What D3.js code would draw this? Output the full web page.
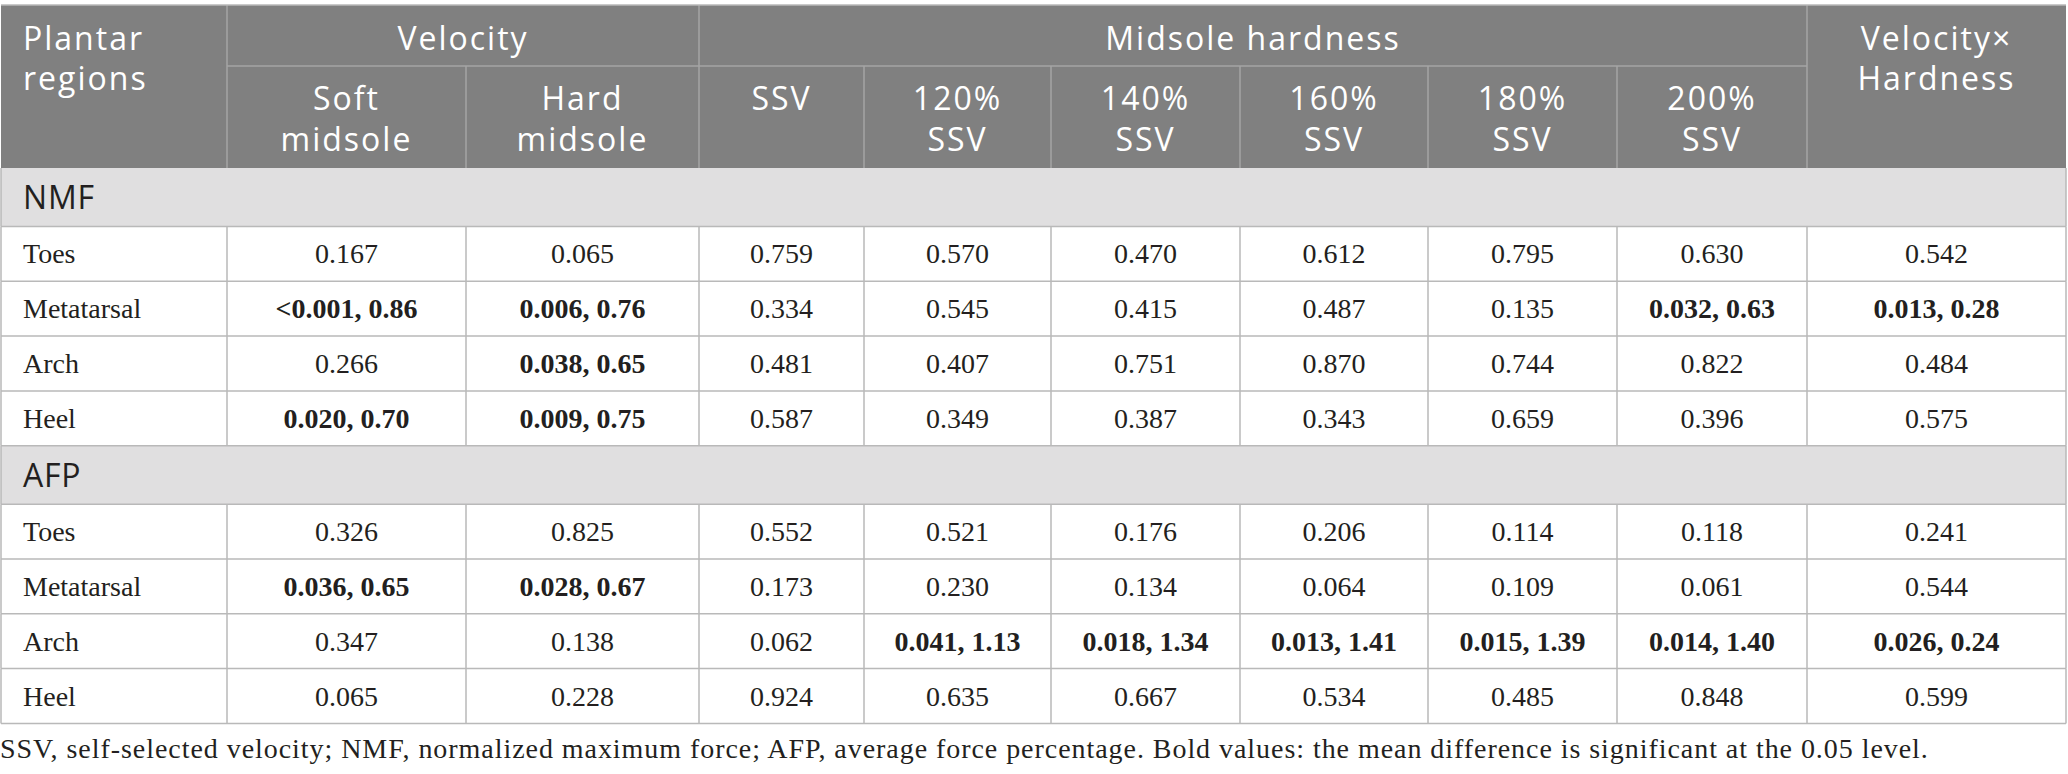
<!DOCTYPE html>
<html lang="en">
<head>
<meta charset="utf-8">
<title>Plantar regions – p values</title>
<script src="https://cdn.jsdelivr.net/npm/d3@7"></script>
<style>
  html, body { margin: 0; padding: 0; background: #fff; }
  svg { display: block; }
  .hd { font-family: "Open Sans", "Noto Sans", sans-serif; font-size: 32px; fill: #fff; letter-spacing: 2px; }
  .grp { font-family: "Open Sans", "Noto Sans", sans-serif; font-size: 32px; fill: #231f20; letter-spacing: 0.8px; }
  .cell { font-family: "Liberation Serif", "Times New Roman", serif; font-size: 28px; fill: #231f20; }
  .note { font-family: "Liberation Serif", "Times New Roman", serif; font-size: 28px; fill: #231f20; letter-spacing: 0.95px; }
</style>
</head>
<body>
<div id="table"></div>
<script>
// ---- data ----
const regions = ["Toes", "Metatarsal", "Arch", "Heel"];
const groups = ["NMF", "AFP"];

const velocityHeader = ["Soft\nmidsole", "Hard\nmidsole"];
const hardnessHeader = ["SSV", "120%\nSSV", "140%\nSSV", "160%\nSSV", "180%\nSSV", "200%\nSSV"];

// one row per region, columns: soft, hard, SSV, 120..200%, velocity x hardness
// values with "p, effect" pairs are the bold (significant) ones
const nmfValues = [
  ["0.167", "0.065", "0.759", "0.570", "0.470", "0.612", "0.795", "0.630", "0.542"],
  ["<0.001, 0.86", "0.006, 0.76", "0.334", "0.545", "0.415", "0.487", "0.135", "0.032, 0.63", "0.013, 0.28"],
  ["0.266", "0.038, 0.65", "0.481", "0.407", "0.751", "0.870", "0.744", "0.822", "0.484"],
  ["0.020, 0.70", "0.009, 0.75", "0.587", "0.349", "0.387", "0.343", "0.659", "0.396", "0.575"]
];
const afpValues = [
  ["0.326", "0.825", "0.552", "0.521", "0.176", "0.206", "0.114", "0.118", "0.241"],
  ["0.036, 0.65", "0.028, 0.67", "0.173", "0.230", "0.134", "0.064", "0.109", "0.061", "0.544"],
  ["0.347", "0.138", "0.062", "0.041, 1.13", "0.018, 1.34", "0.013, 1.41", "0.015, 1.39", "0.014, 1.40", "0.026, 0.24"],
  ["0.065", "0.228", "0.924", "0.635", "0.667", "0.534", "0.485", "0.848", "0.599"]
];
const groupValues = [nmfValues, afpValues];

const footnote = "SSV, self-selected velocity; NMF, normalized maximum force; AFP, average force percentage. Bold values: the mean difference is significant at the 0.05 level.";

// ---- layout ----
const width = 2068, height = 774;
const colEdges = [1, 227, 466, 699, 864, 1051, 1240, 1428, 1617, 1807, 2066];
const tableTop = 5, head1 = 66, headBottom = 168;
const groupH = 58.5, rowH = 54.8;
const padLeft = 22;
const headBg = "#808080", headLine = "#a4a4a4", groupBg = "#e0dfe0", gridLine = "#b9b9b9";

const svg = d3.select("#table").append("svg")
  .attr("width", width)
  .attr("height", height);

// build row list (groups + data rows) with y positions
const rows = [];
let yPos = headBottom;
groups.forEach(function (g, gi) {
  rows.push({ type: "group", label: g, y0: yPos, y1: yPos + groupH });
  yPos += groupH;
  regions.forEach(function (r, ri) {
    rows.push({ type: "data", label: r, values: groupValues[gi][ri], y0: yPos, y1: yPos + rowH });
    yPos += rowH;
  });
});
const tableBottom = yPos;

// ---- header ----
svg.append("rect")
  .attr("x", colEdges[0]).attr("y", tableTop)
  .attr("width", colEdges[10] - colEdges[0]).attr("height", headBottom - tableTop)
  .attr("fill", headBg);

const hLines = svg.append("g").attr("stroke", headLine).attr("stroke-width", 1.5);
hLines.append("line")
  .attr("x1", colEdges[1]).attr("x2", colEdges[9])
  .attr("y1", head1).attr("y2", head1);
// full-height header separators
[1, 3, 9].forEach(function (i) {
  hLines.append("line")
    .attr("x1", colEdges[i]).attr("x2", colEdges[i])
    .attr("y1", tableTop).attr("y2", headBottom);
});
// second-row separators
[2, 4, 5, 6, 7, 8].forEach(function (i) {
  hLines.append("line")
    .attr("x1", colEdges[i]).attr("x2", colEdges[i])
    .attr("y1", head1).attr("y2", headBottom);
});

function multiline(g, text, x, yFirst, lh, anchor) {
  const t = g.append("text").attr("class", "hd").attr("text-anchor", anchor);
  text.split("\n").forEach(function (line, i) {
    t.append("tspan").attr("x", x).attr("y", yFirst + i * lh).text(line);
  });
  return t;
}

const head = svg.append("g");
multiline(head, "Plantar\nregions", colEdges[0] + padLeft, 50, 40, "start");
multiline(head, "Velocity", (colEdges[1] + colEdges[3]) / 2, 50, 40, "middle");
multiline(head, "Midsole hardness", (colEdges[3] + colEdges[9]) / 2, 50, 40, "middle");
multiline(head, "Velocity\u00d7\nHardness", (colEdges[9] + colEdges[10]) / 2, 50, 40, "middle");
velocityHeader.concat(hardnessHeader).forEach(function (h, i) {
  multiline(head, h, (colEdges[i + 1] + colEdges[i + 2]) / 2, 110, 41, "middle");
});

// ---- body ----
const body = svg.append("g");
const groupRows = rows.filter(function (d) { return d.type === "group"; });
const dataRows = rows.filter(function (d) { return d.type === "data"; });

body.selectAll("rect.groupbg")
  .data(groupRows)
  .enter().append("rect")
  .attr("class", "groupbg")
  .attr("x", colEdges[0]).attr("y", function (d) { return d.y0; })
  .attr("width", colEdges[10] - colEdges[0])
  .attr("height", function (d) { return d.y1 - d.y0; })
  .attr("fill", groupBg);

body.selectAll("text.grp")
  .data(groupRows)
  .enter().append("text")
  .attr("class", "grp")
  .attr("x", colEdges[0] + padLeft)
  .attr("y", function (d) { return (d.y0 + d.y1) / 2 + 12; })
  .text(function (d) { return d.label; });

// grid
const grid = body.append("g").attr("stroke", gridLine).attr("stroke-width", 1.5);
rows.forEach(function (d) {
  grid.append("line")
    .attr("x1", colEdges[0]).attr("x2", colEdges[10])
    .attr("y1", d.y1).attr("y2", d.y1);
});
dataRows.forEach(function (d) {
  colEdges.forEach(function (x) {
    grid.append("line")
      .attr("x1", x).attr("x2", x)
      .attr("y1", d.y0).attr("y2", d.y1);
  });
});
// outer border of the group bands
groupRows.forEach(function (d) {
  [colEdges[0], colEdges[10]].forEach(function (x) {
    grid.append("line").attr("x1", x).attr("x2", x).attr("y1", d.y0).attr("y2", d.y1);
  });
});
grid.append("line")
  .attr("x1", colEdges[0]).attr("x2", colEdges[10])
  .attr("y1", tableTop).attr("y2", tableTop);

const rowG = body.selectAll("g.row")
  .data(dataRows)
  .enter().append("g")
  .attr("class", "row")
  .attr("transform", function (d) { return "translate(0," + ((d.y0 + d.y1) / 2 + 9.5) + ")"; });

rowG.append("text")
  .attr("class", "cell")
  .attr("x", colEdges[0] + padLeft)
  .text(function (d) { return d.label; });

rowG.selectAll("text.val")
  .data(function (d) { return d.values; })
  .enter().append("text")
  .attr("class", "cell val")
  .attr("text-anchor", "middle")
  .attr("x", function (v, i) { return (colEdges[i + 1] + colEdges[i + 2]) / 2; })
  .style("font-weight", function (v) { return v.indexOf(",") >= 0 ? "bold" : null; })
  .text(function (v) { return v; });

// ---- footnote ----
svg.append("text")
  .attr("class", "note")
  .attr("x", 0)
  .attr("y", tableBottom + 35)
  .text(footnote);
</script>
</body>
</html>
